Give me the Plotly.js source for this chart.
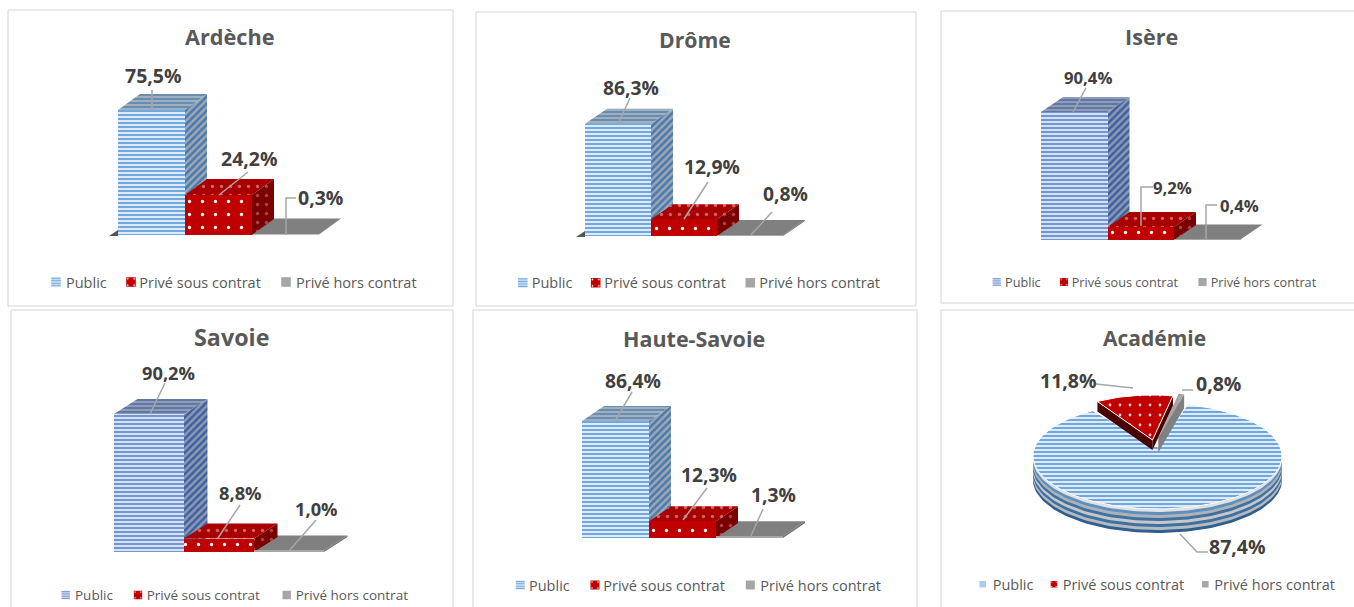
<!DOCTYPE html>
<html><head><meta charset="utf-8">
<script src="https://cdn.plot.ly/plotly-3.0.1.min.js"></script>
<style>html,body{margin:0;padding:0;background:#fff;overflow:hidden}#c{width:1354px;height:607px}</style>
</head><body><div id="c"></div>
<script>
// ---------- data ----------
const categories = ['Public', 'Privé sous contrat', 'Privé hors contrat'];
const ardeche = [75.5, 24.2, 0.3];
const drome = [86.3, 12.9, 0.8];
const isere = [90.4, 9.2, 0.4];
const savoie = [90.2, 8.8, 1.0];
const hauteSavoie = [86.4, 12.3, 1.3];
const academie = [87.4, 11.8, 0.8];

// ---------- layout helpers ----------
const W = 1354, H = 607, FONT = '"Open Sans", sans-serif', TXT = '#595959';
const px = x => x / W, py = y => 1 - y / H;
const fmt = v => v.toFixed(1).replace('.', ',') + '%';

const lightBlue = {fg:'#6fa8dc', bg:'#eaf2fb', sideFg:'#4d78a8', sideBg:'#9aa9ba', topFg:'#6c8cab', topBg:'#9bb0c4'};
const deepBlue  = {fg:'#7296d2', bg:'#e2e9f6', sideFg:'#3f5f9c', sideBg:'#8a99b5', topFg:'#64789f', topBg:'#8c9cbc'};

const panels = [
 {title:'Ardèche', values:ardeche, frame:[8,10,453,306], tx:230, ty:37, x0:118, w:67, base:235, s:1.656, dx:22, dy:16, pal:lightBlue, tfs:21.7,
  lab:[[153,76],[249,158],[320,198]], lead:[[[152,90],[152,110]],[[248,172],[219,195]],[[286,235],[286,198],[296,198]]], foot:true, lfs:19.5,
  leg:{y:282, size:14.5, sw:.8, pos:[[56,66],[131,139.3],[286,296]]}},
 {title:'Drôme', values:drome, frame:[476,12,916,306], tx:695, ty:40, x0:585, w:66, base:236, s:1.3, dx:22, dy:15, pal:lightBlue, tfs:21.2,
  lab:[[631,87],[712,167],[785,194]], lead:[[[630,98],[618,124]],[[708,182],[684,219]],[[772,212],[751,235]]], foot:true, lfs:19.3,
  leg:{y:282.7, size:14.5, sw:.8, pos:[[522.8,531.7],[595.7,604.3],[750.3,759.3]]}},
 {title:'Isère', values:isere, frame:[941,11,1360,303], tx:1151, ty:37, x0:1041, w:66.5, base:240, s:1.416, dx:22, dy:15, pal:deepBlue, tfs:21.6,
  lab:[[1088,77],[1172,187],[1239,205]], lead:[[[1086,88],[1073,112]],[[1141,226],[1141,187],[1153,187]],[[1206,240],[1206,205],[1217,205]]], lfs:16.7,
  leg:{y:282, size:12.7, sw:.68, pos:[[996.7,1005],[1064,1071.7],[1202.5,1210.7]]}},
 {title:'Savoie', values:savoie, frame:[11,310,453,612], tx:231, ty:337, x0:114, w:70, base:552, s:1.53, dx:23.5, dy:15, pal:deepBlue, tfs:23.3,
  lab:[[168,372],[240,492],[316,508]], lead:[[[165,383],[150,414]],[[240,505],[218,538]],[[316,520],[289,551]]], lfs:18.3,
  leg:{y:595, size:13.5, sw:.7, pos:[[65.7,75],[138,146.7],[286.7,295.7]]}},
 {title:'Haute-Savoie', values:hauteSavoie, frame:[473,310,917,612], tx:694, ty:338, x0:582, w:67, base:538, s:1.354, dx:22, dy:15, pal:lightBlue, tfs:21.5,
  lab:[[633,380],[709,474],[773,494]], lead:[[[632,392],[615,421]],[[707,488],[683,520]],[[763,509],[750,538]]], lfs:19.3,
  leg:{y:585, size:14.5, sw:.75, pos:[[520.3,529],[595,603.3],[750.3,760.3]]}}
];
const pie = {title:'Académie', values:academie, frame:[941,310,1360,612], tx:1154, ty:338, cx:1157.5, cy:456, rx:124.5, ry:53, rim:24, start:14, apexDy:9,
  lab:[[1237,546],[1068,380],[1218,384]], lead:[[[1180,534],[1197,552],[1208,552]],[[1096,384],[1133,388]],[[1193,390],[1182,390]]], lfs:19.5,
  leg:{y:584.3, size:14.5, sw:.55, pos:[[982.7,992.7],[1054,1062.7],[1205.3,1214.3]]}};

const RED = {bg:'#c00000', fg:'#ffffff', sideBg:'#7a0000', sideFg:'#b04040', topBg:'#a80000', topFg:'#d06060'};
const GREY = {front:'#a6a6a6', side:'#6e6e6e', top:'#808080'};

const traces = [], shapes = [], annotations = [], legendPlan = [], layout = {
  width:W, height:H, margin:{l:0,r:0,t:0,b:0}, paper_bgcolor:'#fff', plot_bgcolor:'rgba(0,0,0,0)',
  barmode:'overlay', bargap:0, hovermode:false, font:{family:FONT,color:TXT}
};
const hiddenAxis = o => Object.assign({visible:false, fixedrange:true, showgrid:false, zeroline:false}, o);
function poly(xa, ya, xs, ys, style){
  traces.push(Object.assign({type:'scatter', mode:'lines', x:xs, y:ys, xaxis:xa, yaxis:ya, fill:'toself', line:{width:0}, showlegend:false, hoverinfo:'skip'}, style));
}
const solid = c => ({fillcolor:c});
const patt = (shape,fg,bg,size,sol) => ({fillpattern:{shape, fgcolor:fg, bgcolor:bg, size, solidity:sol, fillmode:'replace'}, fillcolor:bg});

function furniture(p, idx){
  const f = p.frame;
  shapes.push({type:'rect', xref:'paper', yref:'paper', x0:px(f[0]), x1:px(f[2]), y0:py(f[3]), y1:py(f[1]), line:{color:'#d4d4d4', width:1}, fillcolor:'rgba(0,0,0,0)', layer:'below'});
  annotations.push({xref:'paper', yref:'paper', x:px(p.tx), y:py(p.ty), text:'<b>'+p.title+'</b>', showarrow:false, xanchor:'center', yanchor:'middle', font:{size:p.tfs||21, family:FONT, color:TXT}});
  p.values.forEach((v,i)=>{
    annotations.push({xref:'paper', yref:'paper', x:px(p.lab[i][0]), y:py(p.lab[i][1]), text:'<b>'+fmt(v)+'</b>', showarrow:false, xanchor:'center', yanchor:'middle', font:{size:p.lfs, family:FONT, color:'#404040'}});
    const path = p.lead[i].map((q,k)=>(k?'L':'M')+px(q[0])+','+py(q[1])).join(' ');
    shapes.push({type:'path', xref:'paper', yref:'paper', path, line:{color:'#a6a6a6', width:1.5}, layer:'above'});
  });
  const name = idx ? 'legend'+(idx+1) : 'legend';
  // parked safely inside the page, then placed precisely after the first draw
  layout[name] = {orientation:'h', x:0.02, y:0.5, xanchor:'left', yanchor:'middle', bgcolor:'rgba(0,0,0,0)', font:{size:p.leg.size, family:FONT, color:TXT}, traceorder:'normal'};
  legendPlan.push({name, leg:p.leg});
  return name;
}

panels.forEach((p, k)=>{
  const legend = furniture(p, k);
  const a = 2*k+1, b = 2*k+2;
  const xm = 'x'+(a>1?a:''), ym = 'y'+(a>1?a:''), xo = 'x'+b, yo = 'y'+b;
  const dom = [px(p.x0), px(p.x0+3*p.w+p.dx+1)];
  const ydom = [py(p.base), py(p.base-170)];
  const xr = [-0.5, 2.5+(p.dx+1)/p.w], yr = [0, 170/p.s];
  layout['xaxis'+(a>1?a:'')] = hiddenAxis({domain:dom, range:xr, anchor:ym});
  layout['yaxis'+(a>1?a:'')] = hiddenAxis({domain:ydom, range:yr, anchor:xm});
  layout['xaxis'+b] = hiddenAxis({domain:dom, range:xr, anchor:yo, overlaying:xm});
  layout['yaxis'+b] = hiddenAxis({domain:ydom, range:yr, anchor:xo, overlaying:ym});
  const ox = p.dx/p.w, oy = p.dy/p.s;
  const faces = (i, sideStyle, topStyle)=>{
    const v = p.values[i], r = i+.5, l = i-.5;
    poly(xm, ym, [l,r,r+ox,l+ox,l], [v,v,v+oy,v+oy,v], topStyle);
    poly(xm, ym, [r,r+ox,r+ox,r,r], [0,oy,v+oy,v,0], sideStyle);
  };
  faces(0, patt('/',p.pal.sideFg,p.pal.sideBg,5,.5), patt('-',p.pal.topFg,p.pal.topBg,4,.5));
  faces(2, solid(GREY.side), solid(GREY.top));
  faces(1, patt('.',RED.sideFg,RED.sideBg,9,.12), patt('.',RED.topFg,RED.topBg,9,.12));
  const marks = [
    {color:p.pal.bg, pattern:{shape:'-', fgcolor:p.pal.fg, bgcolor:p.pal.bg, size:4, solidity:.55, fillmode:'replace'}, line:{width:0}},
    {color:RED.bg, pattern:{shape:'.', fgcolor:RED.fg, bgcolor:RED.bg, size:13, solidity:.05, fillmode:'replace'}, line:{width:0}},
    {color:GREY.front, line:{width:0}}
  ];
  categories.forEach((c,i)=>{
    traces.push({type:'bar', name:c, x:[i], y:[p.values[i]], width:1, xaxis:xo, yaxis:yo, marker:marks[i], legend, hoverinfo:'skip'});
  });
  if(p.foot){
    shapes.push({type:'path', xref:'paper', yref:'paper', path:`M${px(p.x0-9)},${py(p.base+1)} L${px(p.x0)},${py(p.base+1)} L${px(p.x0)},${py(p.base-5)} Z`, fillcolor:'#555', line:{width:0}, layer:'below'});
  }
});

// ---------- Académie: tilted pie built from the shares ----------
(function(){
  const p = pie, legend = furniture(p, 5);
  const xa = 'x11', ya = 'y11';
  const L = 1015, R = 1300, T = 370, B = 550;
  layout.xaxis11 = hiddenAxis({domain:[px(L),px(R)], range:[(L-p.cx)/p.rx,(R-p.cx)/p.rx], anchor:ya});
  layout.yaxis11 = hiddenAxis({domain:[py(B),py(T)], range:[(p.cy-B)/p.ry,(p.cy-T)/p.ry], anchor:xa});
  const total = p.values.reduce((a,b)=>a+b,0);
  const toRad = d => d*Math.PI/180;
  const arc = (a0,a1,scale,ox,oy)=>{
    const xs=[], ys=[], n=Math.max(4,Math.ceil(Math.abs(a1-a0)/2));
    for(let j=0;j<=n;j++){const t=toRad(a0+(a1-a0)*j/n); xs.push(scale*Math.sin(t)+ox); ys.push(scale*Math.cos(t)+oy);}
    return [xs,ys];
  };
  const fx = d => d/p.rx, fy = d => d/p.ry;
  let ang = p.start; const ext = p.values.map(v=>{const a0=ang; ang += v/total*360; return [a0,ang];});
  const rimCols = ['#2f5f8f','#b5bac0','#3f709f','#c4c8cc','#41719f','#aeb3b8','#5f8fbd','#dfe2e5'];
  rimCols.forEach((c,i)=>{
    const d = p.rim*(1-i/rimCols.length);
    const [xs,ys] = arc(90,270,1,0,-fy(d));
    const [xt,yt] = arc(270,90,1,0,0);
    poly(xa,ya,xs.concat(xt),ys.concat(yt),solid(c));
  });
  const [ax,ay] = arc(ext[0][0],ext[0][1],1,0,0);
  poly(xa,ya,[0].concat(ax,[0]),[fy(p.apexDy)].concat(ay,[fy(p.apexDy)]),Object.assign(patt('-','#6fa8dc','#eaf2fb',4,.55),{line:{width:1,color:'#ffffff'}}));
  const SC=.85;
  const sl=(i,ex,ey,topSt,sideC,thick)=>{
    const [xs,ys]=arc(ext[i][0],ext[i][1],SC,fx(ex),fy(ey));
    const tipx=fx(ex), tipy=fy(ey);
    poly(xa,ya,[tipx,xs[0],xs[0],tipx,tipx],[tipy,ys[0],ys[0]-fy(thick),tipy-fy(thick),tipy],solid(sideC));
    const m=xs.length-1;
    poly(xa,ya,[tipx,xs[m],xs[m],tipx,tipx],[tipy,ys[m],ys[m]-fy(thick),tipy-fy(thick),tipy],solid(sideC));
    poly(xa,ya,[tipx].concat(xs,[tipx]),[tipy].concat(ys,[tipy]),topSt);
  };
  sl(2,1,18,solid('#a6a6a6'),'#808080',14);
  sl(1,-5,16,Object.assign(patt('.','#f4d0d0','#c00000',10,.06),{line:{width:1,color:'#ffffff'}}),'#4a0000',10);
  const marks = [
    {color:'#eaf2fb', pattern:{shape:'-', fgcolor:'#6fa8dc', bgcolor:'#eaf2fb', size:4, solidity:.55, fillmode:'replace'}, line:{width:0}},
    {color:'#c00000', pattern:{shape:'.', fgcolor:'#fff', bgcolor:'#c00000', size:13, solidity:.05, fillmode:'replace'}, line:{width:0}},
    {color:'#a6a6a6', line:{width:0}}
  ];
  categories.forEach((c,i)=>traces.push({type:'bar', name:c, x:[null], y:[null], xaxis:xa, yaxis:ya, marker:marks[i], legend, hoverinfo:'skip'}));
})();

layout.shapes = shapes; layout.annotations = annotations;

// Plotly's horizontal legend has fixed swatch/text gaps, so entries are placed after drawing.
function placeLegends(gd){
  legendPlan.forEach(({name, leg})=>{
    const g = gd.querySelector('g.'+name);
    if(!g) return;
    const entries = g.querySelectorAll('g.traces');
    if(!entries.length) return;
    const LX = leg.pos[0][0] - 15, ty = 14;
    g.setAttribute('transform', `translate(${LX},${leg.y - ty})`);
    entries.forEach((e,i)=>{
      e.setAttribute('transform', `translate(0,${ty})`);
      const sym = e.querySelector('.legendsymbols');
      if(sym) sym.setAttribute('transform', `translate(${leg.pos[i][0]-LX},0) scale(${leg.sw}) translate(-20,0)`);
      const x = leg.pos[i][1]-LX;
      // the entry's text is classed after its legend: legendtext, legend2text, ...
      const txt = e.querySelector('text.'+name+'text');
      if(txt) txt.setAttribute('x', x);
    });
  });
}
Plotly.newPlot('c', traces, layout, {displayModeBar:false, staticPlot:true}).then(placeLegends);
</script></body></html>
